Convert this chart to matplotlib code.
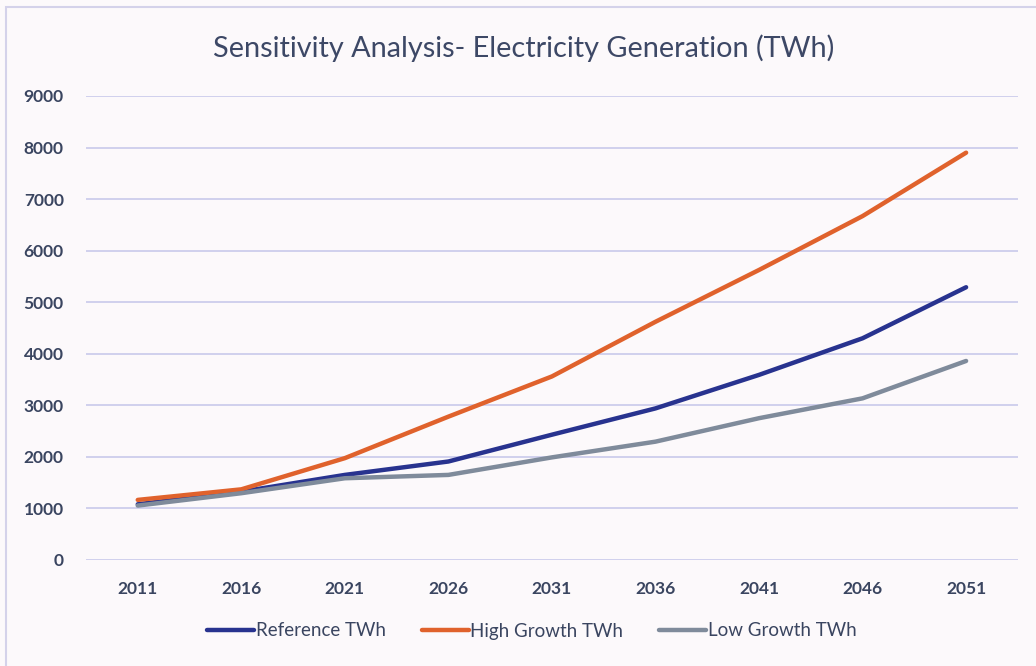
import matplotlib.pyplot as plt
from matplotlib.patches import Rectangle

# Electricity generation scenarios (TWh), 5-year steps
years = ['2011', '2016', '2021', '2026', '2031', '2036', '2041', '2046', '2051']
reference_twh = [1080, 1325, 1650, 1910, 2430, 2940, 3590, 4300, 5290]
high_growth_twh = [1165, 1370, 1975, 2780, 3560, 4620, 5625, 6670, 7900]
low_growth_twh = [1055, 1295, 1585, 1650, 1990, 2295, 2750, 3135, 3860]

series_labels = ['Reference TWh', 'High Growth TWh', 'Low Growth TWh']
series_colors = ['#28338f', '#e0622c', '#7f8b9b']

plt.rcParams['font.family'] = ['Lato', 'DejaVu Sans']

fig = plt.figure(figsize=(10.36, 6.66), dpi=100, facecolor='#fcf9fb')
ax = fig.add_axes([0.083, 0.1592, 0.8995, 0.6967])
ax.set_facecolor('#fcf9fb')

# chart frame (left and top edges visible)
fig.patches.append(Rectangle((6 / 1036, -0.05), 1.2, 1 - 7 / 666 + 0.05,
                             transform=fig.transFigure, fill=False,
                             edgecolor='#d4d2ea', linewidth=1.5))

x = list(range(len(years)))
for vals, lab, col in zip([reference_twh, high_growth_twh, low_growth_twh],
                          series_labels, series_colors):
    ax.plot(x, vals, color=col, linewidth=3.2, label=lab,
            solid_capstyle='round', solid_joinstyle='round')

ax.set_xlim(-0.5, len(years) - 0.5)
ax.set_ylim(0, 9000)
ax.set_yticks(range(0, 9001, 1000))
ax.set_xticks(x)
ax.set_xticklabels(years)
ax.grid(axis='y', color='#c4c6ea', linewidth=1.1)
ax.set_axisbelow(True)
for s in ax.spines.values():
    s.set_visible(False)
ax.tick_params(length=0, labelsize=12.5, labelcolor='#3a4560')
ax.tick_params(axis='y', pad=16)
ax.tick_params(axis='x', pad=15)
for t in ax.get_xticklabels() + ax.get_yticklabels():
    t.set_fontweight('bold')

fig.text(0.505, 0.928, 'Sensitivity Analysis- Electricity Generation (TWh)',
         ha='center', va='center', fontsize=20.8, color='#3d4866')

fig.legend(loc='center', bbox_to_anchor=(532 / 1036, 1 - 631 / 666), ncol=3,
           frameon=False, handlelength=2.5, handletextpad=0.1,
           columnspacing=1.9, prop={'size': 13.5}, labelcolor='#3a4560')

fig.savefig('out.png', dpi=100, facecolor=fig.get_facecolor())
